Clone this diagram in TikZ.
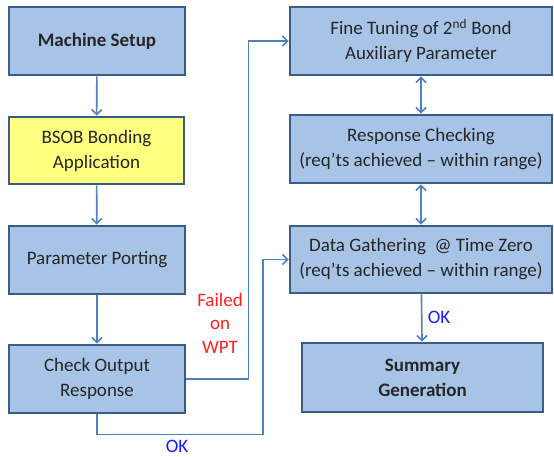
\documentclass[tikz,border=0pt]{standalone}
\usepackage{fontspec}
\setmainfont{Carlito}
\usetikzlibrary{arrows.meta}
\definecolor{boxfill}{HTML}{A7C3E6}
\definecolor{boxdraw}{HTML}{3A5C88}
\definecolor{yfill}{HTML}{FFFF80}
\definecolor{arrcol}{HTML}{4F81BD}
\definecolor{okblue}{HTML}{1A1AFF}
\definecolor{failred}{HTML}{FF2020}
\begin{document}
\begin{tikzpicture}[x=1pt,y=-1pt,
  box/.style={draw=boxdraw,fill=boxfill,line width=2.8pt,align=center,inner sep=0pt,
    font=\fontsize{19}{25}\selectfont,text=black!85},
  arr/.style={draw=arrcol,line width=1.6pt,-{Straight Barb[length=5pt,width=10pt,line width=1.6pt]}},
  darr/.style={draw=arrcol,line width=1.6pt,{Straight Barb[length=5pt,width=10pt,line width=1.6pt]}-{Straight Barb[length=5pt,width=10pt,line width=1.6pt]}},
  lbl/.style={font=\fontsize{19}{23.5}\selectfont,align=center,inner sep=0pt}]
\useasboundingbox (0,0) rectangle (554,456);
\node[box,minimum width=176pt,minimum height=68pt] (ms) at (97,41) {\bfseries Machine Setup};
\node[box,fill=yfill,minimum width=175pt,minimum height=67pt] (bs) at (96.5,150.5) {BSOB Bonding\\Application};
\node[box,minimum width=176pt,minimum height=68pt] (pp) at (97,260) {Parameter Porting};
\node[box,minimum width=176pt,minimum height=68pt] (co) at (97,379) {Check Output\\Response};
\node[box,minimum width=262pt,minimum height=68pt] (ft) at (421,41) {Fine Tuning of 2\textsuperscript{nd} Bond\\Auxiliary Parameter};
\node[box,minimum width=262pt,minimum height=68pt] (rc) at (421,149) {Response Checking\\(req’ts achieved – within range)};
\node[box,minimum width=262pt,minimum height=67pt] (dg) at (421,259.5) {Data Gathering\ \ @ Time Zero\\(req’ts achieved – within range)};
\node[box,minimum width=241pt,minimum height=69pt] (sg) at (422.5,377.5) {\bfseries Summary\\\bfseries Generation};
\draw[arr] (ms) -- (bs);
\draw[arr] (bs) -- (pp);
\draw[arr] (pp) -- (co);
\draw[darr] (ft) -- (rc);
\draw[darr] (rc) -- (dg);
\draw[arr] (dg) -- (sg);
\draw[arr] (co.east) -- ++(62,0) |- (ft.west);
\draw[arr] (co.south) -- ++(0,20) -- ++(166,0) |- (dg.west);
\node[lbl,text=failred] (fail) at (220,323) {Failed\\on\\WPT};
\node[lbl,text=okblue] (ok1) at (177,446) {OK};
\node[lbl,text=okblue] (ok2) at (439,317) {OK};
\end{tikzpicture}
\end{document}
